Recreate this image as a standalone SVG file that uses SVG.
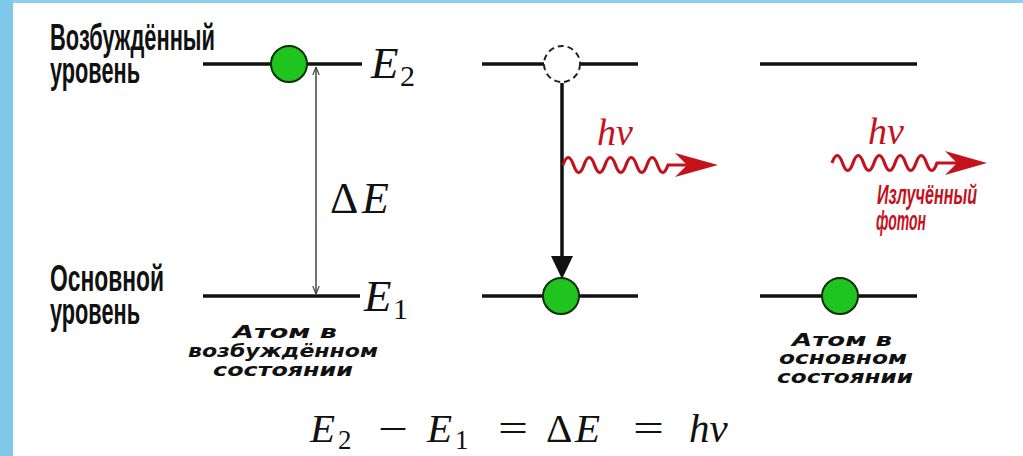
<svg xmlns="http://www.w3.org/2000/svg" width="1023" height="456" viewBox="0 0 1023 456">
<defs>
<style>
.lvl{stroke:#111;stroke-width:3.5;fill:none}
.atom{fill:#1fc41f;stroke:#0b300b;stroke-width:2}
.hole{fill:#fff;stroke:#222;stroke-width:2;stroke-dasharray:6 4}
.lab{font-family:"Liberation Sans",Arial,sans-serif;font-weight:bold;font-size:37px;fill:#111}
.cap{font-family:"DejaVu Sans",Verdana,sans-serif;font-weight:bold;font-style:italic;font-size:18px;fill:#111;text-anchor:middle}
.math{font-family:"Liberation Serif","Times New Roman",serif;font-style:italic;fill:#111}
.up{font-family:"Liberation Serif","Times New Roman",serif;fill:#111}
.red{fill:#c4121c}
.redl{font-family:"Liberation Sans",Arial,sans-serif;font-weight:bold;font-style:italic;font-size:27px;fill:#c4121c}
.wave{fill:none;stroke:#c4121c;stroke-width:3.2}
</style>
<marker id="thin" viewBox="0 0 10 10" refX="10" refY="5" markerWidth="8" markerHeight="8" markerUnits="userSpaceOnUse" orient="auto-start-reverse">
<path d="M0 1 L10 5 L0 9" fill="none" stroke="#444" stroke-width="1.5"/>
</marker>
</defs>
<rect x="0" y="0" width="1023" height="456" fill="#fff"/>
<rect x="0" y="0" width="13" height="456" fill="#7ec9ea"/>
<rect x="13" y="0" width="1010" height="3" fill="#8fd0ee"/>

<g id="labels-left">
<text class="lab" x="50" y="50" textLength="165" lengthAdjust="spacingAndGlyphs">Возбуждённый</text>
<text class="lab" x="50" y="83" textLength="90" lengthAdjust="spacingAndGlyphs">уровень</text>
<text class="lab" x="50" y="291" textLength="114" lengthAdjust="spacingAndGlyphs">Основной</text>
<text class="lab" x="50" y="324" textLength="90" lengthAdjust="spacingAndGlyphs">уровень</text>
</g>

<g id="state-excited">
<line class="lvl" x1="203" y1="64" x2="362" y2="64"/>
<line class="lvl" x1="203" y1="296" x2="360" y2="296"/>
<circle class="atom" cx="289" cy="64" r="18"/>
<text class="math" font-size="45" x="371" y="78">E</text>
<text class="up" font-size="30" x="400" y="86">2</text>
<text class="math" font-size="45" x="364" y="311">E</text>
<text class="up" font-size="30" x="393" y="319">1</text>
<text class="up" font-size="44" x="330" y="213">Δ</text>
<text class="math" font-size="44" x="362" y="213">E</text>
<text class="cap" x="285" y="338" textLength="104" lengthAdjust="spacingAndGlyphs">Атом в</text>
<text class="cap" x="283" y="357" textLength="190" lengthAdjust="spacingAndGlyphs">возбуждённом</text>
<text class="cap" x="283" y="376" textLength="140" lengthAdjust="spacingAndGlyphs">состоянии</text>
</g>

<g id="state-transition">
<line class="lvl" x1="482" y1="64" x2="544" y2="64"/>
<line class="lvl" x1="580" y1="64" x2="638" y2="64"/>
<circle class="hole" cx="562" cy="64" r="18"/>
<line class="lvl" x1="482" y1="296" x2="638" y2="296"/>
<circle class="atom" cx="561" cy="296" r="18"/>
<text class="math red" font-size="38" x="597" y="145">hν</text>
</g>

<g id="state-ground">
<line class="lvl" x1="760" y1="64" x2="917" y2="64"/>
<line class="lvl" x1="760" y1="296" x2="917" y2="296"/>
<circle class="atom" cx="840" cy="296" r="18"/>
<text class="math red" font-size="38" x="868" y="144">hν</text>
<text class="redl" x="877" y="204" textLength="100" lengthAdjust="spacingAndGlyphs">Излучённый</text>
<text class="redl" x="876" y="230" textLength="50" lengthAdjust="spacingAndGlyphs">фотон</text>
<text class="cap" x="842" y="346" textLength="100" lengthAdjust="spacingAndGlyphs">Атом в</text>
<text class="cap" x="843" y="364" textLength="128" lengthAdjust="spacingAndGlyphs">основном</text>
<text class="cap" x="845" y="383" textLength="136" lengthAdjust="spacingAndGlyphs">состоянии</text>
</g>

<g id="connectors">
<line x1="316" y1="67" x2="316" y2="294" stroke="#444" stroke-width="1.5" marker-start="url(#thin)" marker-end="url(#thin)"/>
<line x1="562" y1="83" x2="562" y2="262" stroke="#111" stroke-width="3.5"/>
<polygon points="551,256 573,256 562,279" fill="#111"/>
<path class="wave" d="M563 165 q5.25 -15 10.5 0 t10.5 0 t10.5 0 t10.5 0 t10.5 0 t10.5 0 t10.5 0 t10.5 0 t10.5 0 t10.5 0 L690 165"/>
<polygon points="718,165 675,153 687,165 675,177" fill="#c4121c"/>
<path class="wave" d="M832 163 q5.25 -15 10.5 0 t10.5 0 t10.5 0 t10.5 0 t10.5 0 t10.5 0 t10.5 0 t10.5 0 t10.5 0 t10.5 0 L958 163"/>
<polygon points="987,163 945,151 957,163 945,175" fill="#c4121c"/>
</g>

<g id="equation">
<text class="math" font-size="41" x="310" y="442">E</text>
<text class="up" font-size="27" x="338" y="449">2</text>
<text class="up" font-size="40" x="378" y="442" textLength="30" lengthAdjust="spacingAndGlyphs">−</text>
<text class="math" font-size="41" x="427" y="442">E</text>
<text class="up" font-size="27" x="455" y="449">1</text>
<text class="up" font-size="40" x="498" y="442" textLength="30" lengthAdjust="spacingAndGlyphs">=</text>
<text class="up" font-size="41" x="546" y="442">Δ</text>
<text class="math" font-size="41" x="575" y="442">E</text>
<text class="up" font-size="40" x="633" y="442" textLength="31" lengthAdjust="spacingAndGlyphs">=</text>
<text class="math" font-size="41" x="689" y="442">hν</text>
</g>
</svg>
